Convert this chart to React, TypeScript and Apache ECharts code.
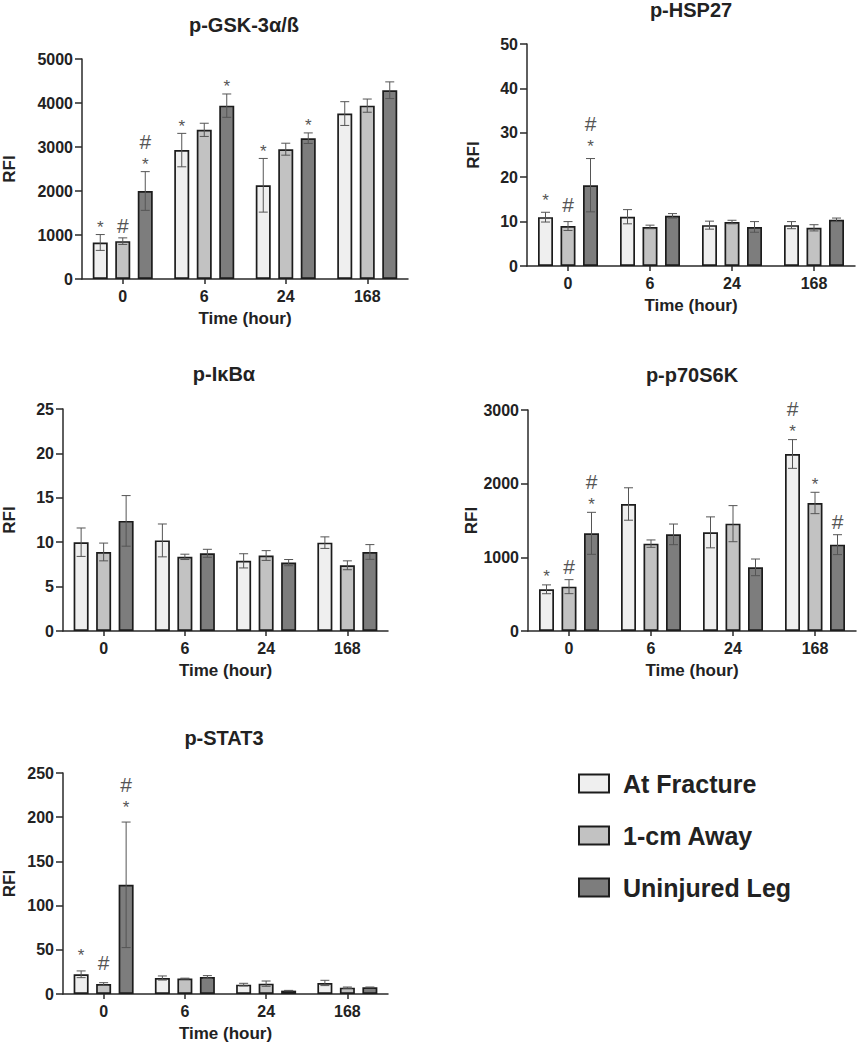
import React, { useEffect, useRef } from "react";
import * as echarts from "echarts";

const categories = ["0", "6", "24", "168"];
const groupNames = ["At Fracture", "1-cm Away", "Uninjured Leg"];
const groupColors = ["#efefef", "#c2c2c2", "#7d7d7d"];

// p-GSK-3α/ß  (rows: At Fracture, 1-cm Away, Uninjured Leg)
const gskMean = [[830, 2930, 2130, 3760], [860, 3390, 2950, 3940], [2000, 3940, 3200, 4290]];
const gskErr = [[180, 380, 610, 270], [75, 150, 136, 150], [440, 265, 120, 190]];
const gskMarks = [["*", "*", "*", ""], ["#", "", "", ""], ["#*", "*", "*", ""]];
const gskAxis = [0, 5000, 1000];

// p-HSP27
const hspMean = [[11.0, 11.1, 9.2, 9.2], [9.0, 8.8, 9.9, 8.6], [18.2, 11.3, 8.8, 10.4]];
const hspErr = [[1.1, 1.6, 0.9, 0.8], [1.0, 0.4, 0.4, 0.7], [6.0, 0.5, 1.2, 0.4]];
const hspMarks = [["*", "", "", ""], ["#", "", "", ""], ["#*", "", "", ""]];
const hspAxis = [0, 50, 10];

// p-IκBα
const ikbMean = [[10.0, 10.2, 7.9, 9.95], [8.9, 8.35, 8.5, 7.4], [12.4, 8.75, 7.7, 8.9]];
const ikbErr = [[1.6, 1.85, 0.8, 0.65], [1.0, 0.3, 0.55, 0.5], [2.85, 0.45, 0.35, 0.83]];
const ikbMarks = [["", "", "", ""], ["", "", "", ""], ["", "", "", ""]];
const ikbAxis = [0, 25, 5];

// p-p70S6K
const p70Mean = [[566, 1724, 1339, 2403], [602, 1186, 1457, 1738], [1326, 1312, 864, 1172]];
const p70Err = [[60, 220, 210, 195], [95, 50, 245, 145], [285, 140, 113, 135]];
const p70Marks = [["*", "", "", "#*"], ["#", "", "", "*"], ["#*", "", "", "#"]];
const p70Axis = [0, 3000, 1000];

// p-STAT3
const statMean = [[22.3, 18.1, 10.6, 12.5], [11.3, 17.4, 11.7, 7.2], [123.5, 19.3, 3.8, 7.5]];
const statErr = [[3.8, 2.3, 1.5, 3.0], [1.5, 0.5, 3.0, 0.7], [71, 1.5, 0.3, 0.4]];
const statMarks = [["*", "", "", ""], ["#", "", "", ""], ["#*", "", "", ""]];
const statAxis = [0, 250, 50];

const FONT = '"Liberation Sans", Arial, Helvetica, sans-serif';
const TEXT = "#222222";
const AXIS = "#2a2a2a";
const BAR_W = 15;

const panels = [
  { title: "p-GSK-3\u03b1/\u00df", mean: gskMean, err: gskErr, marks: gskMarks, axis: gskAxis,
    grid: { left: 80, top: 59, width: 328, height: 220 }, titleTop: 15, yGap: 64, markGap: 11 },
  { title: "p-HSP27", mean: hspMean, err: hspErr, marks: hspMarks, axis: hspAxis,
    grid: { left: 527, top: 44, width: 328, height: 222 }, titleTop: 0, yGap: 45, markGap: 16 },
  { title: "p-I\u03baB\u03b1", mean: ikbMean, err: ikbErr, marks: ikbMarks, axis: ikbAxis,
    grid: { left: 60, top: 409, width: 328, height: 222 }, titleTop: 364, yGap: 45, markGap: 12 },
  { title: "p-p70S6K", mean: p70Mean, err: p70Err, marks: p70Marks, axis: p70Axis,
    grid: { left: 528, top: 410, width: 328, height: 221 }, titleTop: 365, yGap: 45, markGap: 12 },
  { title: "p-STAT3", mean: statMean, err: statErr, marks: statMarks, axis: statAxis,
    grid: { left: 60, top: 773, width: 328, height: 221 }, titleTop: 728, yGap: 45, markGap: 19 },
];

function markText(text: string, x: number, y: number, size: number) {
  return {
    type: "text",
    x,
    y,
    style: {
      text,
      fontSize: size,
      fontFamily: FONT,
      fill: "#555555",
      align: "center",
      verticalAlign: "middle",
    },
  };
}

function makeRender(marks: string[], sIdx: number, markGap: number) {
  return (params: any, api: any) => {
    const ci = api.value(0);
    const lo = api.value(2);
    const hi = api.value(3);
    const off = (sIdx - 1) * BAR_W * 1.5;
    const pHi = api.coord([ci, hi]);
    const pLo = api.coord([ci, lo]);
    const x = pHi[0] + off;
    const cap = 4.5;
    const ls = { stroke: "#555555", lineWidth: 1 };
    const children: any[] = [
      { type: "line", shape: { x1: x, y1: pLo[1], x2: x, y2: pHi[1] }, style: ls },
      { type: "line", shape: { x1: x - cap, y1: pHi[1], x2: x + cap, y2: pHi[1] }, style: ls },
      { type: "line", shape: { x1: x - cap, y1: pLo[1], x2: x + cap, y2: pLo[1] }, style: ls },
    ];
    const m = marks[params.dataIndex] || "";
    const starY = pHi[1] - markGap;
    if (m === "*") {
      children.push(markText("*", x, starY + 4, 17));
    } else if (m === "#") {
      children.push(markText("#", x, pHi[1] - markGap - 1, 21));
    } else if (m === "#*") {
      children.push(markText("*", x, starY + 4, 17));
      children.push(markText("#", x, starY - 19, 21));
    }
    return { type: "group", children };
  };
}

function buildOption() {
  const grid: any[] = [];
  const xAxis: any[] = [];
  const yAxis: any[] = [];
  const series: any[] = [];
  const title: any[] = [];

  panels.forEach((p, gi) => {
    grid.push({ ...p.grid });
    title.push({
      text: p.title,
      left: p.grid.left + p.grid.width / 2,
      top: p.titleTop,
      textAlign: "center",
      padding: 0,
      textStyle: { fontSize: 20, fontWeight: "bold", color: TEXT, fontFamily: FONT },
    });
    xAxis.push({
      type: "category",
      gridIndex: gi,
      data: categories,
      name: "Time (hour)",
      nameLocation: "middle",
      nameGap: 31,
      nameTextStyle: { fontSize: 17, fontWeight: "bold", color: TEXT, fontFamily: FONT },
      axisLine: { show: true, lineStyle: { color: AXIS, width: 1.5 } },
      axisTick: { show: true, alignWithLabel: true, length: 5, lineStyle: { color: AXIS, width: 1.5 } },
      axisLabel: { fontSize: 16, fontWeight: "bold", color: TEXT, fontFamily: FONT, margin: 9 },
      splitLine: { show: false },
    });
    yAxis.push({
      type: "value",
      gridIndex: gi,
      min: p.axis[0],
      max: p.axis[1],
      interval: p.axis[2],
      name: "RFI",
      nameLocation: "middle",
      nameGap: p.yGap,
      nameTextStyle: { fontSize: 17, fontWeight: "bold", color: TEXT, fontFamily: FONT },
      axisLine: { show: true, lineStyle: { color: AXIS, width: 1.5 } },
      axisTick: { show: true, length: 7, lineStyle: { color: AXIS, width: 1.5 } },
      axisLabel: {
        fontSize: 16, fontWeight: "bold", color: TEXT, fontFamily: FONT, margin: 9,
        formatter: (v: number) => String(v),
      },
      splitLine: { show: false },
    });
    groupNames.forEach((name, si) => {
      series.push({
        type: "bar",
        name,
        xAxisIndex: gi,
        yAxisIndex: gi,
        data: p.mean[si],
        barWidth: BAR_W,
        barGap: "50%",
        itemStyle: { color: groupColors[si], borderColor: "#1c1c1c", borderWidth: 1.7 },
        z: 2,
      });
    });
    groupNames.forEach((name, si) => {
      series.push({
        type: "custom",
        name: name + " SEM",
        xAxisIndex: gi,
        yAxisIndex: gi,
        data: p.mean[si].map((v, ci) => [ci, v, v - p.err[si][ci], v + p.err[si][ci]]),
        encode: { x: 0, y: [1, 2, 3] },
        renderItem: makeRender(p.marks[si], si, p.markGap),
        z: 3,
        silent: true,
      });
    });
  });

  return {
    animation: false,
    backgroundColor: "#ffffff",
    title,
    grid,
    xAxis,
    yAxis,
    series,
    legend: {
      orient: "vertical",
      left: 578,
      top: 771,
      padding: 0,
      itemWidth: 30,
      itemHeight: 18,
      itemGap: 27,
      icon: "rect",
      selectedMode: false,
      data: groupNames,
      textStyle: { fontSize: 25, fontWeight: "bold", color: TEXT, fontFamily: FONT, padding: [0, 0, 0, 9] },
    },
  };
}

export default function App() {
  const ref = useRef<HTMLDivElement>(null);
  useEffect(() => {
    if (!ref.current) return;
    const chart = echarts.init(ref.current, undefined, { renderer: "svg" });
    chart.setOption(buildOption() as any);
    return () => chart.dispose();
  }, []);
  return (
    <div
      ref={ref}
      style={{ position: "absolute", left: 0, top: 0, width: 857, height: 1050, background: "#fff" }}
    />
  );
}
